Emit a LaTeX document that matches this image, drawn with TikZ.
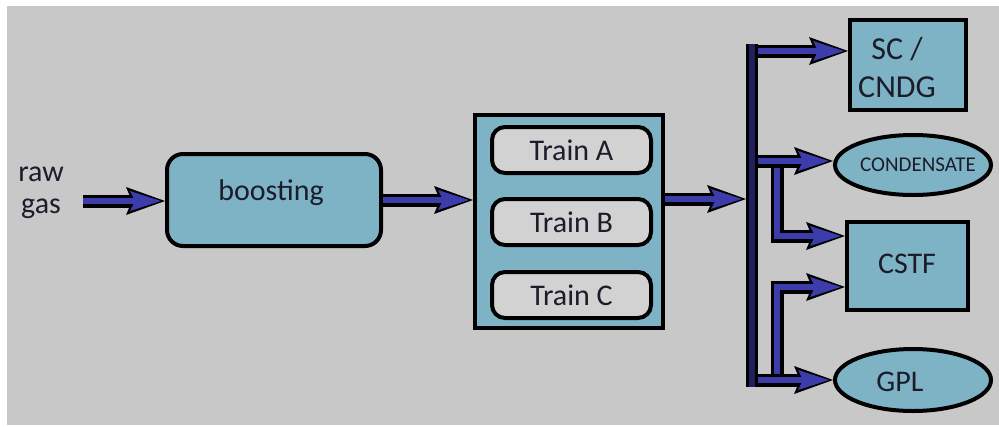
\documentclass[tikz,border=0pt]{standalone}
\usepackage{fontspec}
\setmainfont{Carlito}
\usetikzlibrary{arrows.meta,shapes.geometric}

\definecolor{bggrey}{HTML}{C8C8C8}
\definecolor{unitfill}{HTML}{7DB3C5}
\definecolor{trainfill}{HTML}{D2D2D2}
\definecolor{flowblue}{HTML}{3C3CAA}
\definecolor{busnavy}{HTML}{20205C}
\definecolor{inktext}{HTML}{1C1C2A}

\tikzset{
  unit/.style={draw=black, line width=4pt, fill=unitfill, text=inktext,
    inner sep=0pt, align=center},
  roundunit/.style={unit, rounded corners=16pt},
  trainbox/.style={unit, fill=trainfill, rounded corners=13pt},
  oval/.style={unit, ellipse},
  % fat flow arrow: dark outline underneath, blue core on top
  fat/.style={draw=flowblue, line width=6.5pt, line join=miter, line cap=butt,
    -{Stealth[length=31pt,width=20pt,inset=5pt,line width=0pt]},
    shorten >=4pt,
    preaction={draw=black, line width=13pt, shorten >=0pt,
      -{Stealth[length=39pt,width=28pt,inset=6pt,line width=0pt]}}},
  busbar/.style={draw=busnavy, line width=6pt, line cap=butt,
    preaction={draw=black, line width=12pt}},
}

\begin{document}
\begin{tikzpicture}[x=1pt, y=-1pt, font=\fontsize{30}{36}\selectfont]
  % canvas
  \fill[white] (0,0) rectangle (999,426);
  \fill[bggrey] (7,6) rectangle (999,425);
  \useasboundingbox (0,0) rectangle (999,426);

  % source label and process units
  \node[text=inktext, align=center] (raw) at (41,193) {raw\\[-4pt]gas};
  \node[roundunit, minimum width=214pt, minimum height=92pt] (boost) at (274,200) {};
  \node[text=inktext] at (271,193) {boosting};

  \node[unit, minimum width=188pt, minimum height=213pt] (trains) at (569,221.5) {};
  \node[trainbox, minimum width=159pt, minimum height=46pt] (trainA) at (571.5,150) {Train A};
  \node[trainbox, minimum width=159pt, minimum height=46pt] (trainB) at (571.5,222) {Train B};
  \node[trainbox, minimum width=159pt, minimum height=46pt] (trainC) at (571.5,295) {Train C};

  % destinations
  \node[unit, minimum width=116pt, minimum height=90pt] (sc) at (908,65) {};
  \node[text=inktext, align=center, font=\fontsize{32}{38}\selectfont] at (897,67) {SC /\\CNDG};
  \node[oval, minimum width=156pt, minimum height=60pt] (cond) at (913,165) {};
  \node[text=inktext, font=\fontsize{21}{25}\selectfont] at (918,165) {CONDENSATE};
  \node[unit, minimum width=121pt, minimum height=88pt] (cstf) at (907.5,266) {};
  \node[text=inktext] at (907,264) {CSTF};
  \node[oval, minimum width=156pt, minimum height=62pt] (gpl) at (913,380) {};
  \node[text=inktext] at (900,382) {GPL};

  % junction points of the distribution header
  \coordinate (feed) at (83,201);
  \coordinate (busin) at (746,199);
  \coordinate (bustop) at (752,44);
  \coordinate (busbot) at (752,387);
  \coordinate (tapsc) at (752,51);
  \coordinate (tapcond) at (752,161);
  \coordinate (tapgpl) at (752,380);
  \coordinate (riseA) at (777,161);
  \coordinate (bendA) at (777,236);
  \coordinate (riseB) at (777,380);
  \coordinate (bendB) at (777,287);

  % main flow
  \draw[fat] (feed) -- (boost.west |- feed);
  \draw[fat] (boost.east) -- (boost.east -| trains.west);
  \draw[fat] (trains.east |- busin) -- (busin);

  % secondary risers feeding CSTF
  \draw[fat] (riseA) -- (bendA) -- (bendA -| cstf.west);
  \draw[fat] (riseB) -- (bendB) -- (bendB -| cstf.west);

  % branches off the header
  \draw[fat] (tapsc) -- (tapsc -| sc.west);
  \draw[fat] (tapcond) -- (tapcond -| cond.west);
  \draw[fat] (tapgpl) -- (tapgpl -| gpl.west);

  % vertical header
  \draw[busbar] (bustop) -- (busbot);
\end{tikzpicture}
\end{document}
